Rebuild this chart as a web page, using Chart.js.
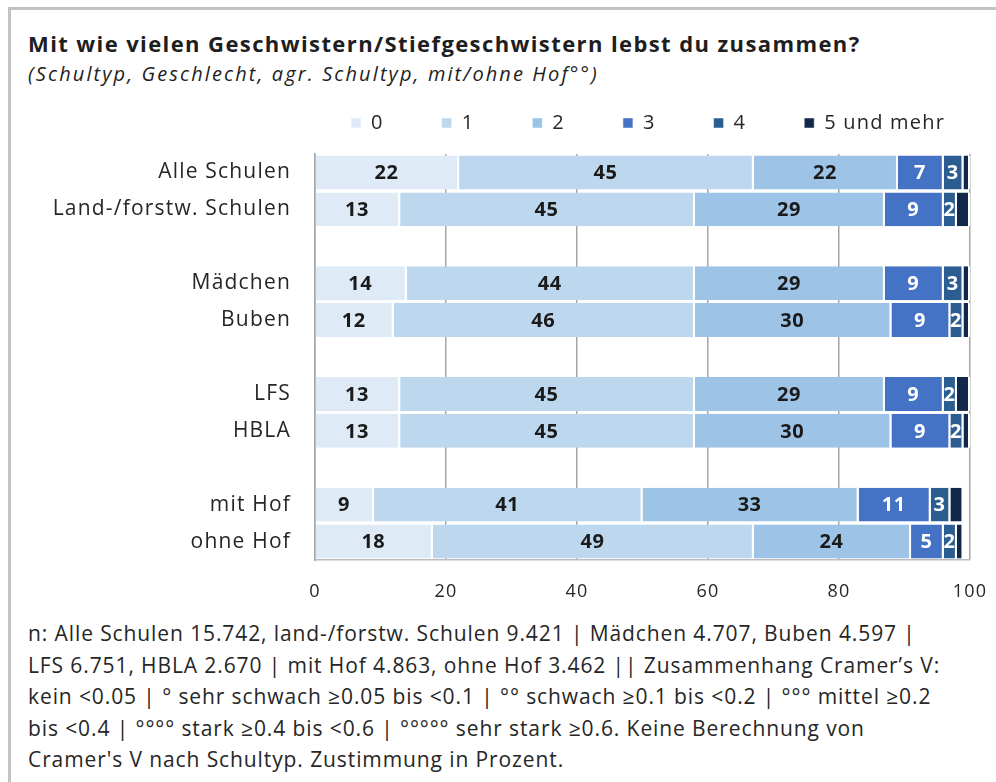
<!DOCTYPE html>
<html lang="de">

<head>
    <meta charset="UTF-8">
    <title>Geschwister</title>
    <style>
        body {
            margin: 0;
            width: 996px;
            height: 782px;
            background: #fff;
            font-family: "Open Sans", sans-serif;
            color: #1e1e1e;
            position: relative;
            overflow: hidden;
        }

        .frame {
            position: absolute;
            left: 8px;
            top: 7px;
            width: 1000px;
            height: 800px;
            border-left: 3px solid #c3c3c3;
            border-top: 3px solid #c3c3c3;
        }

        .title {
            position: absolute;
            left: 28px;
            top: 28px;
            font-size: 22px;
            letter-spacing: 1.4px;
            font-weight: bold;
            white-space: nowrap;
        }

        .subtitle {
            position: absolute;
            left: 28px;
            top: 60px;
            font-size: 20px;
            letter-spacing: 2.1px;
            font-style: italic;
            white-space: nowrap;
        }

        .note {
            position: absolute;
            left: 28px;
            top: 618px;
            font-size: 21px;
            letter-spacing: 0.9px;
            line-height: 31.5px;
            white-space: nowrap;
            color: #262626;
        }

        #chart {
            position: absolute;
            left: 0;
            top: 55px;
        }
    </style>
</head>

<body>
    <div class="frame"></div>
    <div class="title">Mit wie vielen Geschwistern/Stiefgeschwistern lebst du zusammen?</div>
    <div class="subtitle">(Schultyp, Geschlecht, agr. Schultyp, mit/ohne Hof°°)</div>

    <canvas id="chart" width="996" height="560"></canvas>

    <div class="note">
        n: Alle Schulen 15.742, land-/forstw. Schulen 9.421 | Mädchen 4.707, Buben 4.597 |<br>
        LFS 6.751, HBLA 2.670 | mit Hof 4.863, ohne Hof 3.462 || Zusammenhang Cramer’s V:<br>
        kein &lt;0.05 | ° sehr schwach ≥0.05 bis &lt;0.1 | °° schwach ≥0.1 bis &lt;0.2 | °°° mittel ≥0.2<br>
        bis &lt;0.4 | °°°° stark ≥0.4 bis &lt;0.6 | °°°°° sehr stark ≥0.6. Keine Berechnung von<br>
        Cramer's V nach Schultyp. Zustimmung in Prozent.
    </div>

    <script src="https://cdn.jsdelivr.net/npm/chart.js"></script>

    <script>
        const categories = ["Alle Schulen", "Land-/forstw. Schulen", "Mädchen", "Buben",
            "LFS", "HBLA", "mit Hof", "ohne Hof"];
        const gapAfter = [1, 3, 5]; // empty row after these categories

        const seriesNames = ["0", "1", "2", "3", "4", "5 und mehr"];
        const zero = [22, 13, 14, 12, 13, 13, 9, 18];
        const one = [45, 45, 44, 46, 45, 45, 41, 49];
        const two = [22, 29, 29, 30, 29, 30, 33, 24];
        const three = [7, 9, 9, 9, 9, 9, 11, 5];
        const four = [3, 2, 3, 2, 2, 2, 3, 2];
        const fivePlus = [1, 2, 1, 1, 2, 1, 2, 1];

        const xTicks = [0, 20, 40, 60, 80, 100];

        const colors = ["#deebf7", "#bdd7ee", "#9dc3e6", "#4472c4", "#2b5d91", "#12284a"];
        const labelColors = ["#1a1a1a", "#1a1a1a", "#1a1a1a", "#ffffff", "#ffffff", null];

        // rows with empty spacer rows between the groups
        function withGaps(arr, filler) {
            let out = [];
            arr.forEach((v, i) => {
                out.push(v);
                if (gapAfter.includes(i)) out.push(filler);
            });
            return out;
        }

        const rowLabels = withGaps(categories, "");
        const allSeries = [zero, one, two, three, four, fivePlus];

        const datasets = allSeries.map((s, i) => ({
            label: seriesNames[i],
            data: withGaps(s, null),
            backgroundColor: colors[i],
            borderColor: "#ffffff",
            borderWidth: { left: 0, right: 2, top: 0, bottom: 0 },
            borderSkipped: false,
            barPercentage: 0.92,
            categoryPercentage: 1.0
        }));

        // wider text, closer to the original's look
        const spacing = {
            id: "spacing",
            beforeLayout(chart) { chart.ctx.letterSpacing = "1.2px"; },
            beforeDraw(chart) { chart.ctx.letterSpacing = "1.2px"; }
        };

        const valueLabels = {
            id: "valueLabels",
            afterDatasetsDraw(chart) {
                const ctx = chart.ctx;
                ctx.save();
                ctx.letterSpacing = "0.5px";
                ctx.font = "bold 20px 'Open Sans'";
                ctx.textAlign = "center";
                ctx.textBaseline = "middle";
                chart.data.datasets.forEach((ds, i) => {
                    if (!labelColors[i]) return;
                    ctx.fillStyle = labelColors[i];
                    chart.getDatasetMeta(i).data.forEach((bar, j) => {
                        const v = ds.data[j];
                        if (v == null) return;
                        const p = bar.getProps(["x", "y", "base"], true);
                        ctx.fillText(v, (p.x + p.base) / 2 - 1, p.y + 1);
                    });
                });
                ctx.restore();
            }
        };

        // extra room under the legend, and legend row pushed a bit to the right
        const legendPlace = {
            id: "legendPlace",
            beforeInit(chart) {
                const fit = chart.legend.fit;
                chart.legend.fit = function () {
                    fit.bind(chart.legend)();
                    this.height += 11;
                };
            },
            afterLayout(chart) {
                chart.legend.right += 33;
            }
        };

        let ctx = document.getElementById("chart").getContext("2d");
        let chart = new Chart(ctx, {
            type: "bar",
            data: {
                labels: rowLabels,
                datasets: datasets
            },
            plugins: [spacing, valueLabels, legendPlace],
            options: {
                indexAxis: "y",
                responsive: false,
                animation: false,
                layout: {
                    padding: { left: 0, right: 26, top: 0, bottom: 0 }
                },
                scales: {
                    x: {
                        stacked: true,
                        min: 0,
                        max: 100,
                        afterBuildTicks(scale) {
                            scale.ticks = xTicks.map(v => ({ value: v }));
                        },
                        afterFit(scale) {
                            scale.height = 55;
                            scale.paddingLeft = 0;
                            scale.paddingRight = 0;
                        },
                        grid: {
                            color: "#a6a6a6",
                            lineWidth: 1.5,
                            drawTicks: false
                        },
                        border: { display: true, color: "#bcbcbc", width: 1.5 },
                        ticks: {
                            padding: 21,
                            color: "#262626",
                            font: { family: "Open Sans", size: 18 }
                        }
                    },
                    y: {
                        stacked: true,
                        afterFit(scale) {
                            scale.width = 315;
                        },
                        grid: { display: false, drawTicks: false },
                        border: { display: true, color: "#a6a6a6", width: 1.5 },
                        ticks: {
                            padding: 24,
                            color: "#262626",
                            autoSkip: false,
                            font: { family: "Open Sans", size: 21 }
                        }
                    }
                },
                plugins: {
                    legend: {
                        position: "top",
                        align: "end",
                        labels: {
                            boxWidth: 10,
                            boxHeight: 10,
                            padding: 58,
                            color: "#262626",
                            font: { family: "Open Sans", size: 20 }
                        }
                    },
                    tooltip: { enabled: false }
                }
            }
        });
    </script>
</body>

</html>
